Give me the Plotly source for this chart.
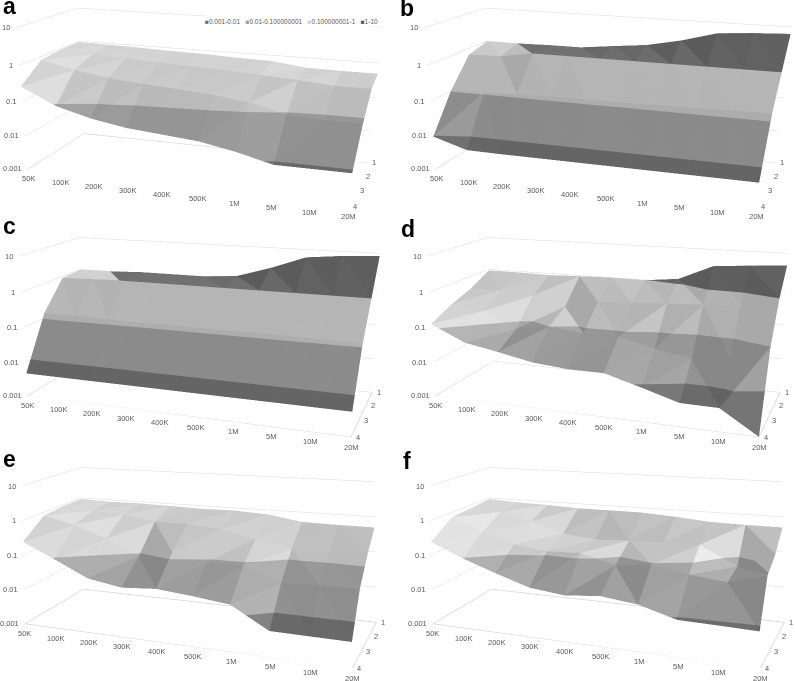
import numpy as np
import plotly.graph_objects as go

x_labels = ["50K","100K","200K","300K","400K","500K","1M","5M","10M","20M"]
row_labels = ["1","2","3","4"]
z_ticks = [0.001,0.01,0.1,1,10]
z_tick_labels = ["0.001","0.01","0.1","1","10"]
legend_labels = ["0.001-0.01","0.01-0.100000001","0.100000001-1","1-10"]
legend_colors = ["#6e6e6e","#9a9a9a","#d0d0d0","#555555"]
panel_letters = ["a","b","c","d","e","f"]

panel_a = [
 [.95,.91,.87,.81,.78,.71,.68,.52,.50,.50],
 [.95,.80,.72,.65,.60,.55,.48,.42,.35,.35],
 [.80,.50,.35,.29,.25,.21,.16,.09,.08,.08],
 [.26,.09,.05,.034,.028,.023,.015,.0085,.0085,.0085]]
panel_b = [
 [1.0,1.0,1.05,1.05,1.35,1.7,2.7,5,5.9,6.5],
 [.67,.70,1.01,1.01,1.01,1.01,1.01,1.01,1.01,1.01],
 [.11,.115,.12,.125,.13,.13,.135,.14,.145,.15],
 [.0095,.0048,.0047,.0047,.0047,.0047,.0047,.0047,.0047,.0047]]
panel_c = [
 [.98,1.0,1.1,1.1,1.1,1.3,2.6,6,7.5,8.5],
 [.90,.95,1.01,1.01,1.01,1.01,1.01,1.01,1.01,1.01],
 [.14,.14,.135,.13,.13,.13,.13,.13,.125,.12],
 [.0046,.0046,.0046,.0046,.0046,.0046,.0046,.0046,.0046,.0046]]
panel_d = [
 [.93,.93,.89,.95,1.0,.98,1.25,3.4,4,4.7],
 [.43,.45,.36,.20,.33,.37,.43,.47,.50,1.0],
 [.26,.19,.07,.10,.08,.078,.045,.03,.04,.10],
 [.126,.046,.031,.02,.0166,.0166,.0087,.0044,.0043,.001]]
panel_e = [
 [.93,.87,.89,.85,.81,.83,.74,.52,.5,.5],
 [.93,.78,.66,.48,.49,.40,.26,.16,.15,.16],
 [.80,.49,.23,.087,.14,.09,.087,.037,.04,.042],
 [.24,.091,.033,.023,.027,.022,.017,.0046,.0045,.0044]]
panel_f = [
 [.93,.83,.79,.72,.72,.72,.63,.52,.5,.5],
 [.80,.70,.42,.21,.17,.19,.20,.21,.063,.17],
 [.71,.30,.16,.12,.13,.073,.095,.062,.049,.094],
 [.24,.098,.046,.023,.018,.022,.017,.0089,.0085,.008]]
panels = [panel_a,panel_b,panel_c,panel_d,panel_e,panel_f]

# view of each row of panels: eye, centre, box aspect, up
row_eye = [(0.985,-3.303,0.818),(2.013,-5.594,1.58),(1.356,-3.28,0.956)]
row_center = [(0.135,-0.512,-0.846),(-0.024,-0.076,-0.094),(-0.086,0.22,0.92)]
row_aspect = [(1.35,0.575,0.564),(2.466,0.939,1.077),(1.437,0.509,0.604)]
row_up = [(-0.092,0.249,1),(0.004,0.006,1),(-0.056,0.194,1)]

nx,ny=len(x_labels),len(row_labels)
y_pos=[ny-1-i for i in range(ny)]
levels=[-3,-2,-1,0,1]
band_base=[0x7c,0xaa,0xd4,0x72]
sx,sy,sz=3/9,1/3,1.3/4

def clip(poly,zv,keep_above):
    out=[]
    for a,b in zip(poly,poly[1:]+poly[:1]):
        ia=(a[2]>=zv) if keep_above else (a[2]<=zv)
        ib=(b[2]>=zv) if keep_above else (b[2]<=zv)
        if ia: out.append(a)
        if ia!=ib:
            t=(zv-a[2])/(b[2]-a[2])
            out.append(a+t*(b-a))
    return out

def build_mesh(vals):
    L=np.log10(np.array(vals,float))
    G=lambda c,r:np.array([c,y_pos[r],L[r][c]],float)
    X,Y,Z,I,J,K,C=[],[],[],[],[],[],[]
    for r in range(ny-1):
        for c in range(nx-1):
            a,b,d,e=G(c,r+1),G(c+1,r+1),G(c+1,r),G(c,r)
            if abs(a[2]-d[2])<=abs(b[2]-e[2]): tris=[(a,b,d),(a,d,e)]
            else: tris=[(a,b,e),(b,d,e)]
            for t in tris:
                u=(t[1]-t[0])*[sx,sy,sz]; v=(t[2]-t[0])*[sx,sy,sz]
                n=np.cross(u,v); n=n/np.linalg.norm(n)
                if n[2]<0: n=-n
                shade=np.clip(1+.5*n[0]-.22*abs(n[1]),.8,1.12)
                for bi in range(4):
                    poly=clip(list(t),levels[bi],True)
                    if len(poly)>=3: poly=clip(poly,levels[bi+1],False)
                    if len(poly)<3: continue
                    g=int(min(255,band_base[bi]*shade))
                    base=len(X)
                    for pt in poly: X.append(pt[0]);Y.append(pt[1]);Z.append(pt[2])
                    for m in range(1,len(poly)-1):
                        I.append(base);J.append(base+m);K.append(base+m+1)
                        C.append(f"rgb({g},{g},{g})")
    return X,Y,Z,I,J,K,C

fig=go.Figure()
x_dom=[[0,387/795],[408/795,1]]
lab_font=dict(family="Liberation Sans",size=7.5,color="#595959")
letter_xy=[(3,15),(400,17),(3,235),(401,238),(3,468),(403,470)]
for idx,vals in enumerate(panels):
    sc="scene"+("" if idx==0 else str(idx+1))
    ro=idx//2
    dict3=lambda v:dict(x=v[0],y=v[1],z=v[2])
    cam=dict(eye=dict3(row_eye[ro]),center=dict3(row_center[ro]),up=dict3(row_up[ro]))
    X,Y,Z,I,J,K,C=build_mesh(vals)
    fig.add_trace(go.Mesh3d(x=X,y=Y,z=Z,i=I,j=J,k=K,facecolor=C,flatshading=True,scene=sc,hoverinfo="skip",
        lighting=dict(ambient=1,diffuse=0,specular=0,roughness=1,fresnel=0)))
    xr=[0,nx-1]; yr=[0,ny-1]; zr=[levels[0],levels[-1]]
    fig.add_trace(go.Scatter3d(x=[xr[0],xr[1],xr[1],xr[0],xr[0]],y=[yr[0],yr[0],yr[1],yr[1],yr[0]],z=[zr[0]]*5,
        mode="lines",line=dict(color="#d4d4d4",width=1.5),scene=sc,hoverinfo="skip",showlegend=False))
    ann=[]
    for i,t in enumerate(x_labels):
        ann.append(dict(x=i,y=0,z=-3,text=t,showarrow=False,yshift=-10,font=lab_font))
    for j,t in enumerate(row_labels):
        ann.append(dict(x=nx-1,y=y_pos[j],z=-3,text=t,showarrow=False,xshift=7,font=lab_font))
    for v,t in zip(z_ticks,z_tick_labels):
        ann.append(dict(x=0,y=0,z=float(np.log10(v)),text=t,showarrow=False,xanchor="right",xshift=-4,font=lab_font))
    ax=dict(showbackground=False,showgrid=False,zeroline=False,showticklabels=False,showspikes=False,title="",showline=False,ticks="")
    fig.update_layout({sc:dict(domain=dict(x=x_dom[idx%2],y=[0,1]),
        xaxis=dict(ax,range=xr),yaxis=dict(ax,range=yr),
        zaxis=dict(ax,range=zr,showgrid=True,gridcolor="#d9d9d9",gridwidth=1,tickvals=levels),
        aspectmode="manual",aspectratio=dict3(row_aspect[ro]),camera=cam,annotations=ann,dragmode=False)})
    lx,ly=letter_xy[idx]
    fig.add_annotation(xref="paper",yref="paper",x=lx/795,y=1-ly/681,
        text=f"<b>{panel_letters[idx]}</b>",showarrow=False,xanchor="left",yanchor="bottom",
        font=dict(family="Liberation Sans",size=23,color="black"),yshift=-6,xshift=-2)
leg=" &nbsp; ".join(f'<span style="color:{c}">■</span>{t}' for c,t in zip(legend_colors,legend_labels))
fig.add_annotation(xref="paper",yref="paper",x=380/795,y=1-21/681,text=leg,showarrow=False,xanchor="right",yanchor="middle",
    font=dict(family="Liberation Sans",size=6.5,color="#595959"),bgcolor="white")
fig.update_layout(width=795,height=681,margin=dict(l=0,r=0,t=0,b=0),showlegend=False,paper_bgcolor="white")
fig.write_html("out.html",config={"displayModeBar":False},post_script="document.body.style.margin='0';")
